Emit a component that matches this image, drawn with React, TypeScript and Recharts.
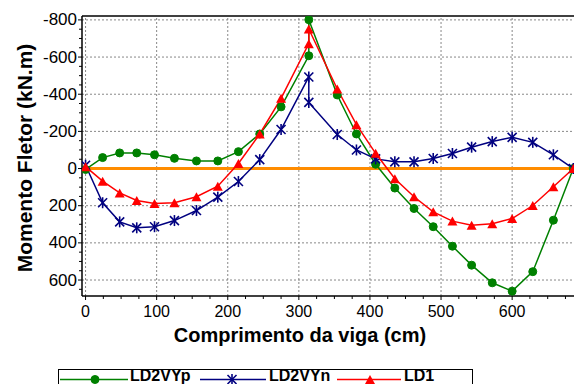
import { LineChart, Line, XAxis, YAxis, ReferenceLine } from "recharts";

// Bending moment along the beam (kN.m), sign convention: negative plotted upward
const positions = [0, 24, 48, 72, 97, 125, 156, 186, 215, 245, 275, 314, 314, 354, 381, 408, 435, 462, 489, 516, 543, 572, 600, 629, 658, 686];
const ld2vypValues = [5, -59, -84, -84, -74, -55, -41, -41, -91, -186, -332, -607, -801, -396, -186, -23, 105, 215, 313, 418, 520, 615, 660, 555, 278, 0];
const ld2vynValues = [-18, 184, 287, 319, 313, 280, 226, 154, 70, -48, -210, -493, -356, -183, -100, -52, -36, -36, -54, -81, -115, -145, -168, -141, -74, 0];
const ld1Values = [-10, 68, 131, 172, 188, 184, 152, 95, -27, -186, -378, -672, -751, -428, -236, -82, 55, 152, 233, 283, 305, 297, 269, 199, 98, 0];

const xTicks = [0, 25, 50, 75, 100, 125, 150, 175, 200, 225, 250, 275, 300, 325, 350, 375, 400, 425, 450, 475, 500, 525, 550, 575, 600, 625, 650, 675];
const yTicks = [-800, -750, -700, -650, -600, -550, -500, -450, -400, -350, -300, -250, -200, -150, -100, -50, 0, 50, 100, 150, 200, 250, 300, 350, 400, 450, 500, 550, 600, 650];
const xMajor = [0, 100, 200, 300, 400, 500, 600];
const yMajor = [-800, -600, -400, -200, 0, 200, 400, 600];

const X_DOMAIN: [number, number] = [-5, 687];
const Y_DOMAIN: [number, number] = [-821, 686];

const GREEN = "#008000";
const NAVY = "#000080";
const RED = "#ff0000";
const ORANGE = "#ff8c00";
const FONT = '"Liberation Sans", Arial, sans-serif';

const data = positions.map((x, i) => ({
  x,
  ld2vyp: ld2vypValues[i],
  ld2vyn: ld2vynValues[i],
  ld1: ld1Values[i],
}));

// ─── Markers ────────────────────────────────────────────────────────────────

function Circle({ cx, cy }: { cx: number; cy: number }) {
  return <circle cx={cx} cy={cy} r={4} fill={GREEN} stroke={GREEN} />;
}

function Star({ cx, cy }: { cx: number; cy: number }) {
  const s = 4.5;
  return (
    <g stroke={NAVY} strokeWidth={1.6}>
      <line x1={cx - s} y1={cy - s} x2={cx + s} y2={cy + s} />
      <line x1={cx - s} y1={cy + s} x2={cx + s} y2={cy - s} />
      <line x1={cx} y1={cy - s - 1} x2={cx} y2={cy + s + 1} />
    </g>
  );
}

function Triangle({ cx, cy }: { cx: number; cy: number }) {
  const w = 5, h = 4.5;
  return <polygon points={`${cx},${cy - h} ${cx + w},${cy + h} ${cx - w},${cy + h}`} fill={RED} />;
}

// ─── Axis ticks ─────────────────────────────────────────────────────────────

function YTick({ x, y, payload }: any) {
  const major = payload.value % 200 === 0;
  return (
    <g>
      <line x1={x - (major ? 4 : 3)} y1={y} x2={x} y2={y} stroke="#000" />
      {major && (
        <text x={x - 5} y={y} textAnchor="end" dominantBaseline="central" fontSize={17} fontFamily={FONT} fill="#000">
          {payload.value}
        </text>
      )}
    </g>
  );
}

function XTick({ x, y, payload }: any) {
  const major = payload.value % 100 === 0;
  return (
    <g>
      <line x1={x} y1={y} x2={x} y2={y + (major ? 4 : 3)} stroke="#000" />
      {major && (
        <text x={x} y={y + 15} textAnchor="middle" dominantBaseline="central" fontSize={16} fontFamily={FONT} fill="#000">
          {payload.value}
        </text>
      )}
    </g>
  );
}

// ─── Legend (boxed, running off the bottom edge like the source) ─────────────

const legendItems = [
  { name: "LD2VYp", color: GREEN, lineFrom: 60, lineTo: 128, markerAt: 95, textAt: 130 },
  { name: "LD2VYn", color: NAVY, lineFrom: 200, lineTo: 266, markerAt: 232, textAt: 269 },
  { name: "LD1", color: RED, lineFrom: 337, lineTo: 401, markerAt: 370, textAt: 404 },
];

function LegendBox() {
  const cy = 379.5;
  return (
    <svg width={574} height={384} style={{ position: "absolute", left: 0, top: 0, pointerEvents: "none" }}>
      <rect x={58.5} y={369.5} width={414} height={30} fill="#fff" stroke="#000" />
      {legendItems.map((it) => (
        <g key={it.name}>
          <line x1={it.lineFrom} y1={cy} x2={it.lineTo} y2={cy} stroke={it.color} strokeWidth={1.5} />
          {it.name === "LD2VYp" && <Circle cx={it.markerAt} cy={cy} />}
          {it.name === "LD2VYn" && <Star cx={it.markerAt} cy={cy} />}
          {it.name === "LD1" && <Triangle cx={it.markerAt} cy={cy} />}
          <text x={it.textAt} y={381} fontSize={16} fontWeight="bold" fontFamily={FONT} fill="#000">
            {it.name}
          </text>
        </g>
      ))}
    </svg>
  );
}

export default function App() {
  return (
    <div style={{ position: "absolute", left: 0, top: 0, width: 574, height: 384, background: "#fff", overflow: "hidden" }}>
      <LineChart width={574} height={384} data={data} margin={{ top: 16, right: 0, left: 12, bottom: 58 }}>
        {xMajor.map((v) => (
          <ReferenceLine key={`vx${v}`} x={v} stroke="#888" strokeDasharray="2 2" />
        ))}
        {yMajor.map((v) => (
          <ReferenceLine key={`hy${v}`} y={v} stroke="#888" strokeDasharray="2 2" />
        ))}
        <ReferenceLine y={Y_DOMAIN[0]} stroke="#000" strokeWidth={1.5} />
        <XAxis
          dataKey="x"
          type="number"
          domain={X_DOMAIN}
          allowDataOverflow
          ticks={xTicks}
          interval={0}
          tick={<XTick />}
          tickLine={false}
          tickSize={0}
          tickMargin={0}
          height={30}
          axisLine={{ stroke: "#000", strokeWidth: 1.5 }}
          label={() => (
            <text x={300} y={335} textAnchor="middle" dominantBaseline="central" fontSize={20} fontWeight="bold" fontFamily={FONT} fill="#000">
              Comprimento da viga (cm)
            </text>
          )}
        />
        <YAxis
          type="number"
          domain={Y_DOMAIN}
          reversed
          allowDataOverflow
          ticks={yTicks}
          interval={0}
          tick={<YTick />}
          tickLine={false}
          tickSize={0}
          tickMargin={0}
          width={70}
          axisLine={{ stroke: "#000", strokeWidth: 1.5 }}
          label={() => (
            <text
              x={24}
              y={158}
              transform="rotate(-90, 24, 158)"
              textAnchor="middle"
              dominantBaseline="central"
              fontSize={21}
              fontWeight="bold"
              fontFamily={FONT}
              fill="#000"
            >
              Momento Fletor (kN.m)
            </text>
          )}
        />
        <ReferenceLine y={0} stroke={ORANGE} strokeWidth={3} />
        <Line
          dataKey="ld2vyp"
          name="LD2VYp"
          type="linear"
          stroke={GREEN}
          strokeWidth={1.5}
          isAnimationActive={false}
          dot={(p: any) => <Circle key={`g${p.index}`} cx={p.cx} cy={p.cy} />}
        />
        <Line
          dataKey="ld2vyn"
          name="LD2VYn"
          type="linear"
          stroke={NAVY}
          strokeWidth={1.5}
          isAnimationActive={false}
          dot={(p: any) => <Star key={`b${p.index}`} cx={p.cx} cy={p.cy} />}
        />
        <Line
          dataKey="ld1"
          name="LD1"
          type="linear"
          stroke={RED}
          strokeWidth={1.5}
          isAnimationActive={false}
          dot={(p: any) => <Triangle key={`r${p.index}`} cx={p.cx} cy={p.cy} />}
        />
      </LineChart>
      <LegendBox />
    </div>
  );
}
